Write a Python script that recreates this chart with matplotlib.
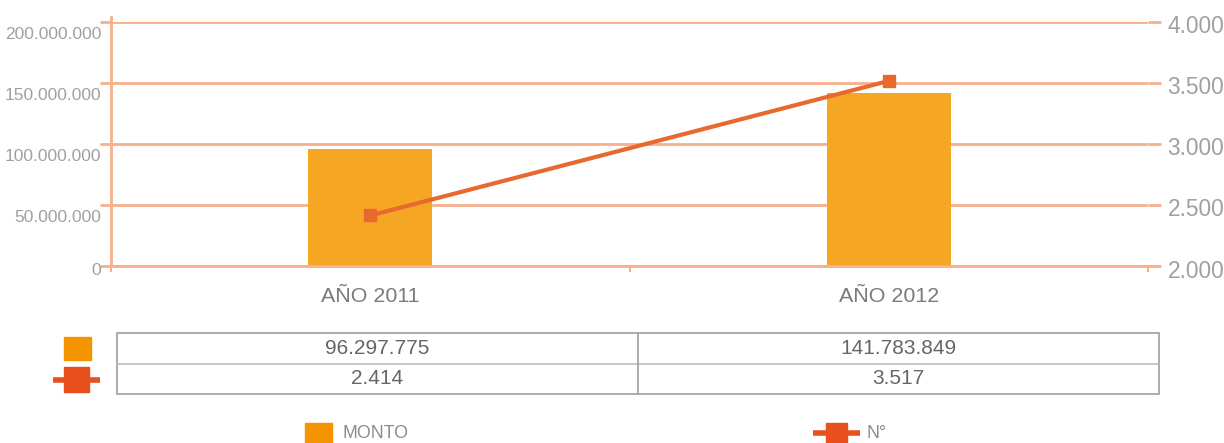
import matplotlib
matplotlib.use("Agg")
import matplotlib.pyplot as plt
from matplotlib.lines import Line2D
from matplotlib.patches import Rectangle
from matplotlib.transforms import ScaledTranslation

# Datos
categorias = ["AÑO 2011", "AÑO 2012"]
monto = [96297775, 141783849]
numero = [2414, 3517]
series_nombres = ["MONTO", "N°"]

izq_ticks = [0, 50000000, 100000000, 150000000, 200000000]
der_ticks = [2000, 2500, 3000, 3500, 4000]

c_barra = "#F5A623"
c_linea = "#E8692E"
c_grid = "#F6B08C"
c_texto = "#A0A0A0"
c_ley_barra = "#F49500"
c_ley_linea = "#E8501E"

plt.rcParams["font.family"] = ["Liberation Sans", "DejaVu Sans"]


def miles(v):
    return f"{v:,}".replace(",", ".")


W, H = 1224, 443
fig = plt.figure(figsize=(W / 100, H / 100), dpi=100)

ax = fig.add_axes([111 / W, 1 - 266 / H, (1148 - 111) / W, (266 - 22) / H])
x = list(range(len(categorias)))
ax.bar(x, monto, width=0.24, color=c_barra, zorder=2)
ax.set_xlim(-0.5, 1.5)
ax.set_ylim(0, 200000000)
ax.set_yticks(izq_ticks)
ax.set_yticklabels([miles(v) for v in izq_ticks], fontsize=12.5, color=c_texto)
ax.tick_params(axis="y", length=8, width=2, color=c_grid, pad=-1)
ax.grid(axis="y", color=c_grid, lw=2, zorder=0)
ax.set_axisbelow(True)
# etiquetas de la izquierda un poco bajo su línea
for v, lab in zip(izq_ticks, ax.get_yticklabels()):
    dy = -3 if v == 0 else -11.5
    lab.set_transform(lab.get_transform() + ScaledTranslation(0, dy / 100, fig.dpi_scale_trans))

ax.set_xticks(x)
ax.set_xticklabels(categorias, fontsize=15.4, color="#7A7A7A")
ax.tick_params(axis="x", length=0, pad=15)
ax.set_xticks([-0.5, 0.5, 1.5], minor=True)
ax.tick_params(axis="x", which="minor", length=4, width=1.5, color=c_grid)

for s in ["top", "right"]:
    ax.spines[s].set_visible(False)
ax.spines["left"].set_color(c_grid)
ax.spines["left"].set_linewidth(2)
ax.spines["bottom"].set_color(c_grid)
ax.spines["bottom"].set_linewidth(2)
ax.add_line(Line2D([0, 0], [1, 1.02], transform=ax.transAxes, color=c_grid,
                   lw=2, clip_on=False))

ax2 = ax.twinx()
ax2.plot(x, numero, color=c_linea, lw=3, marker="s", markersize=9.3, zorder=3)
ax2.set_ylim(2000, 4000)
ax2.set_yticks(der_ticks)
ax2.set_yticklabels([miles(v) for v in der_ticks], fontsize=16.4, color=c_texto)
ax2.tick_params(axis="y", length=9, width=2, color=c_grid, pad=5)
for lab in ax2.get_yticklabels():
    lab.set_transform(lab.get_transform() + ScaledTranslation(0, -2.5 / 100, fig.dpi_scale_trans))
for s in ax2.spines.values():
    s.set_visible(False)

# Tabla de valores
tx0, tx1, ty0, ty1 = 117, 1159, 333, 394
tab = fig.add_axes([tx0 / W, 1 - ty1 / H, (tx1 - tx0) / W, (ty1 - ty0) / H])
tab.set_xlim(0, len(categorias))
tab.set_ylim(0, 2)
tab.axis("off")
tab.add_patch(Rectangle((0, 0), len(categorias), 2, fill=False, ec="#9E9E9E",
                        lw=1.2, clip_on=False))
tab.plot([0, len(categorias)], [1, 1], color="#BDBDBD", lw=1.2)
for i in range(1, len(categorias)):
    tab.plot([i, i], [0, 2], color="#9E9E9E", lw=1.2)
for i in range(len(categorias)):
    tab.text(i + 0.5, 1.5, miles(monto[i]), ha="center", va="center",
             fontsize=15, color="#666666")
    tab.text(i + 0.5, 0.5, miles(numero[i]), ha="center", va="center",
             fontsize=15, color="#666666")

# Claves de leyenda
ov = fig.add_axes([0, 0, 1, 1])
ov.set_xlim(0, W)
ov.set_ylim(H, 0)
ov.axis("off")


def clave_barra(cx, cy, w, h):
    ov.add_patch(Rectangle((cx - w / 2, cy - h / 2), w, h, color=c_ley_barra))


def clave_linea(cx, cy, w, sq):
    ov.plot([cx - w / 2, cx + w / 2], [cy, cy], color=c_ley_linea, lw=4,
            solid_capstyle="butt")
    ov.add_patch(Rectangle((cx - sq / 2, cy - sq / 2), sq, sq, color=c_ley_linea))


clave_barra(77.5, 348.5, 27, 23)
clave_linea(76.5, 379.5, 47, 25)

clave_barra(318.5, 433, 27, 21)
ov.text(343, 434, series_nombres[0], fontsize=12.8, color="#8C8C8C", va="center")
clave_linea(836.5, 433, 47, 21)
ov.text(866, 434, series_nombres[1], fontsize=12.8, color="#8C8C8C", va="center")

fig.savefig("out.png", dpi=100)
